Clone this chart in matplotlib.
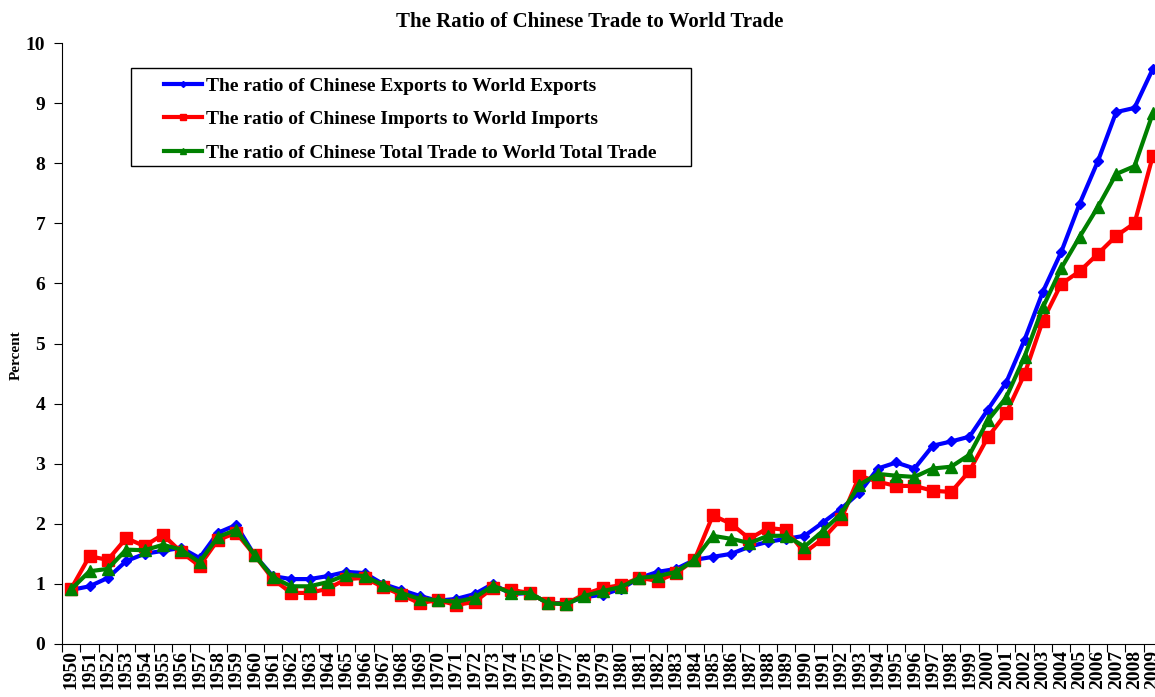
import matplotlib.pyplot as plt
import numpy as np
from matplotlib.patches import Rectangle

plt.rcParams['font.family'] = ['Liberation Serif', 'DejaVu Serif']
plt.rcParams['font.weight'] = 'bold'

years = list(range(1950, 2010))

exports = [0.90, 0.96, 1.10, 1.38, 1.50, 1.55, 1.60, 1.43, 1.85, 1.98,
           1.48, 1.13, 1.08, 1.08, 1.13, 1.20, 1.18, 1.00, 0.90, 0.80,
           0.72, 0.75, 0.83, 1.00, 0.83, 0.85, 0.68, 0.68, 0.78, 0.82,
           0.92, 1.10, 1.20, 1.25, 1.40, 1.45, 1.50, 1.62, 1.70, 1.75,
           1.80, 2.02, 2.25, 2.52, 2.92, 3.02, 2.92, 3.30, 3.37, 3.45,
           3.90, 4.35, 5.06, 5.86, 6.52, 7.32, 8.03, 8.85, 8.92, 9.57]

imports = [0.92, 1.46, 1.40, 1.76, 1.63, 1.82, 1.53, 1.30, 1.73, 1.85,
           1.48, 1.08, 0.85, 0.85, 0.92, 1.08, 1.10, 0.95, 0.82, 0.68,
           0.73, 0.65, 0.70, 0.93, 0.90, 0.85, 0.68, 0.67, 0.83, 0.93,
           0.98, 1.10, 1.05, 1.18, 1.40, 2.14, 2.00, 1.75, 1.93, 1.90,
           1.52, 1.75, 2.08, 2.80, 2.70, 2.63, 2.63, 2.55, 2.53, 2.88,
           3.44, 3.84, 4.49, 5.38, 5.99, 6.20, 6.49, 6.79, 7.00, 8.12]

total = [0.91, 1.21, 1.25, 1.57, 1.56, 1.65, 1.57, 1.36, 1.78, 1.90,
         1.48, 1.11, 0.96, 0.96, 1.03, 1.15, 1.13, 0.98, 0.85, 0.75,
         0.73, 0.70, 0.77, 0.97, 0.85, 0.85, 0.68, 0.66, 0.80, 0.88,
         0.95, 1.10, 1.13, 1.20, 1.40, 1.80, 1.75, 1.68, 1.80, 1.80,
         1.62, 1.88, 2.17, 2.65, 2.83, 2.80, 2.78, 2.92, 2.95, 3.15,
         3.72, 4.10, 4.78, 5.60, 6.25, 6.77, 7.27, 7.82, 7.95, 8.83]

labels = ['The ratio of Chinese Exports to World Exports',
          'The ratio of Chinese Imports to World Imports',
          'The ratio of Chinese Total Trade to World Total Trade']

W, H = 1155, 697
fig = plt.figure(figsize=(W / 100, H / 100), dpi=100)
# plot area runs a bit past the right edge, as in the original
ax = fig.add_axes([62 / W, 53 / H, 1100 / W, 601 / H])

x = np.arange(len(years))
ax.plot(x, exports, color='blue', lw=3, marker='D', ms=5, label=labels[0])
ax.plot(x, imports, color='red', lw=3, marker='s', ms=8, label=labels[1])
ax.plot(x, total, color='green', lw=3, marker='^', ms=8, label=labels[2])

ax.set_xlim(-0.5, len(years) - 0.5)
ax.set_ylim(0, 10)
ax.set_yticks(range(0, 11))
ax.tick_params(axis='y', labelsize=14, direction='out', length=6, pad=6)

ax.set_xticks(np.arange(-0.5, len(years), 1))
ax.set_xticklabels([])
ax.set_xticks(x, minor=True)
ax.set_xticklabels([str(y) for y in years], minor=True, rotation=90, fontsize=14)
ax.tick_params(axis='x', which='major', direction='out', length=6)
ax.tick_params(axis='x', which='minor', length=0, pad=4)

for s in ['top', 'right']:
    ax.spines[s].set_visible(False)

fig.text(16 / W, 1 - 355 / H, 'Percent', rotation=90, fontsize=11,
         ha='center', va='center')
fig.text(590 / W, 1 - 22 / H, 'The Ratio of Chinese Trade to World Trade',
         fontsize=15, ha='center', va='center')

# legend box drawn separately so its padding matches the original
fig.patches.append(Rectangle((131 / W, 1 - 166 / H), 560 / W, 98 / H,
                             transform=fig.transFigure, fill=False,
                             edgecolor='black', lw=1))
ax.legend(loc='upper left', bbox_to_anchor=(164 / W, 1 - 77 / H),
          bbox_transform=fig.transFigure, fontsize=14, frameon=False,
          handlelength=1.95, handletextpad=0.2, borderpad=0, borderaxespad=0,
          labelspacing=0.82, markerscale=0.6)

fig.savefig('out.png', dpi=100)
